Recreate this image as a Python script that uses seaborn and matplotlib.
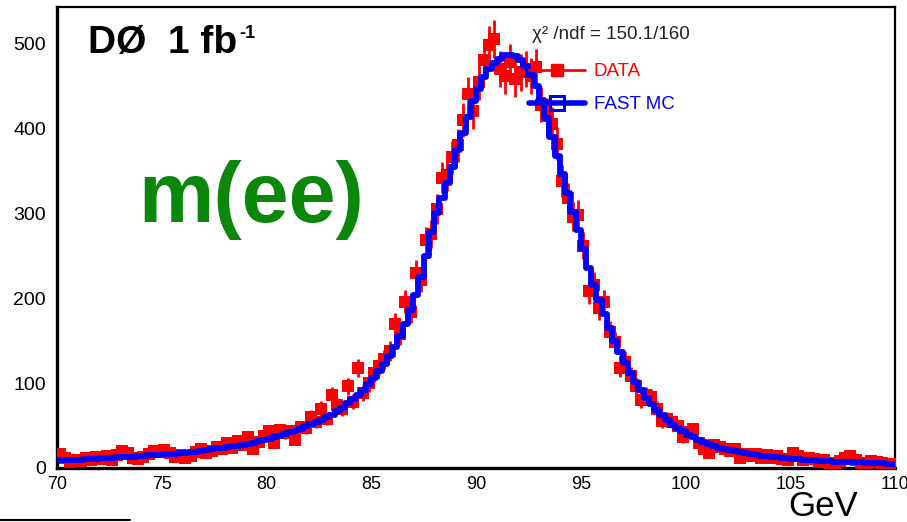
import numpy as np
import pandas as pd
import matplotlib.pyplot as plt
import seaborn as sns
from matplotlib.lines import Line2D
from matplotlib.ticker import MultipleLocator

# m(ee) histogram, 160 bins of 0.25 GeV between 70 and 110 GeV
mass_lo, mass_hi, n_bins = 70.0, 110.0, 160

fast_mc = [
    9, 9, 9.5, 10, 10, 10.5, 10.5, 11, 11.5, 11.5, 12, 12.5, 13, 13, 13.5, 14,
    14.5, 15, 15, 15.5, 16, 16.5, 17, 17.5, 18, 18.5, 19, 20, 21, 22, 23, 24,
    25, 25.5, 26.5, 27.5, 28.5, 30, 31.5, 33, 34.5, 36, 38, 40, 42, 44, 46.5, 49,
    51.5, 54, 57, 60, 63, 67, 71, 76, 81, 86, 92, 99, 106, 114, 122, 132,
    142, 155, 170, 186, 204, 225, 250, 278, 300, 318, 336, 355, 374, 394, 414, 432,
    447, 460, 470, 477, 482, 486, 487, 485, 480, 473, 463, 450, 433, 412, 390, 368,
    346, 324, 302, 280, 258, 236, 216, 198, 181, 165, 150, 137, 124, 112, 101, 92,
    83, 75, 68, 62, 56, 51, 47, 43, 39, 36, 33, 30.5, 28, 26, 24, 22.5,
    21, 19.5, 18.5, 17.5, 16.5, 15.5, 14.5, 14, 13, 12.5, 12, 11.5, 11, 10.5, 10, 9.5,
    9, 8.5, 8.5, 8, 7.5, 7.5, 7, 7, 6.5, 6.5, 6, 6, 5.5, 5.5, 5, 5,
]

data = [
    16, 12, 7, 9, 8, 12, 10, 13, 11, 14, 10, 15, 20, 18, 12, 11,
    13, 16, 20, 19, 21, 18, 13, 15, 12, 14, 19, 22, 18, 20, 25, 22,
    30, 24, 32, 27, 36, 22, 31, 38, 44, 30, 45, 41, 44, 33, 48, 47,
    60, 54, 70, 58, 86, 74, 70, 96, 78, 118, 88, 100, 112, 120, 128, 138,
    170, 158, 196, 184, 230, 222, 268, 276, 305, 342, 345, 366, 380, 410, 440, 420,
    455, 480, 498, 505, 470, 462, 478, 458, 466, 470, 462, 472, 428, 415, 405, 382,
    338, 318, 296, 298, 262, 208, 216, 188, 196, 160, 148, 118, 125, 108, 96, 80,
    86, 84, 70, 55, 58, 54, 50, 36, 42, 46, 30, 22, 18, 27, 25, 22,
    20, 22, 12, 16, 14, 17, 12, 15, 12, 14, 11, 10, 18, 14, 9, 12,
    11, 7, 10, 6, 5, 8, 12, 14, 9, 3, 6, 8, 7, 6, 4, 5,
]

edges = np.linspace(mass_lo, mass_hi, n_bins + 1)
centers = 0.5 * (edges[:-1] + edges[1:])
df = pd.DataFrame({'mass': centers, 'mc': fast_mc, 'data': data})
df['err'] = np.sqrt(df['data'])

sns.set_style('white')
plt.rcParams['font.family'] = ['Liberation Sans', 'DejaVu Sans']
plt.rcParams['text.color'] = 'black'
plt.rcParams['xtick.color'] = 'black'
plt.rcParams['ytick.color'] = 'black'

W, H = 907, 522
fig = plt.figure(figsize=(W / 100, H / 100), dpi=100)
ax = fig.add_axes([57 / W, 54 / H, 838 / W, 461 / H])

# data: red squares with sqrt(N) errors
ax.errorbar(df['mass'], df['data'], yerr=df['err'], xerr=0.125, fmt='none',
            ecolor='#ff0000', elinewidth=2.0, zorder=2)
sns.scatterplot(data=df, x='mass', y='data', marker='s', color='#ff0000', s=72,
                linewidth=0, ax=ax, zorder=3)

# fast MC: thick blue step line
sns.histplot(data=df, x='mass', weights='mc', bins=n_bins, binrange=(mass_lo, mass_hi),
             element='step', fill=False, color='#0000ff', linewidth=4.2, ax=ax, zorder=4)

ax.set_xlim(mass_lo, mass_hi)
ax.set_ylim(0, 543)
ax.set_xlabel('')
ax.set_ylabel('')
ax.xaxis.set_major_locator(MultipleLocator(5))
ax.xaxis.set_minor_locator(MultipleLocator(1))
ax.yaxis.set_major_locator(MultipleLocator(100))
ax.yaxis.set_minor_locator(MultipleLocator(20))
ax.tick_params(axis='y', which='major', direction='in', length=18, width=1.8,
               labelsize=14, pad=8)
ax.tick_params(axis='y', which='minor', direction='in', length=9, width=1.8)
ax.tick_params(axis='x', which='major', direction='in', length=10, width=1.8,
               labelsize=13, pad=6)
ax.tick_params(axis='x', which='minor', direction='in', length=5, width=1.8)
for s in ['left', 'bottom']:
    ax.spines[s].set_linewidth(2.4)
for s in ['top', 'right']:
    ax.spines[s].set_linewidth(1.6)
for s in ax.spines.values():
    s.set_color('black')

# legend
handles = [
    Line2D([], [], color='#ff0000', lw=2, marker='s', markersize=8),
    Line2D([], [], color='#0000ff', lw=4, marker='s', markersize=10,
           markerfacecolor='none', markeredgewidth=2.2),
]
leg = ax.legend(handles, ['DATA', 'FAST MC'], loc='upper left',
                bbox_to_anchor=(529 / W, 1 - 63 / H), bbox_transform=fig.transFigure,
                frameon=False, fontsize=13.5, handlelength=3.0, handletextpad=0.45,
                labelspacing=0.85, borderpad=0, borderaxespad=0)
leg.get_texts()[0].set_color('#ff0000')
leg.get_texts()[1].set_color('#0000ff')

fig.text(532 / W, 1 - 39 / H, 'χ² /ndf = 150.1/160', fontsize=13.5, color='#222222',
         va='baseline')
lumi = fig.text(88 / W, 1 - 53 / H, 'DØ  1 fb', fontsize=28, fontweight='bold',
                va='baseline')
fig.canvas.draw()
bb = lumi.get_window_extent()
fig.text(bb.x1 / W + 2 / W, 1 - 38 / H, '-1', fontsize=13, fontweight='bold',
         va='baseline')
fig.text(138 / W, 1 - 222 / H, 'm(ee)', fontsize=61, fontweight='bold',
         color='#0b870b', va='baseline')
fig.text(858 / W, 1 - 516 / H, 'GeV', fontsize=25, ha='right', va='baseline')
fig.add_artist(Line2D([0, 130 / W], [2 / H, 2 / H], color='black', lw=1.5))

fig.savefig('out.png', dpi=100)
